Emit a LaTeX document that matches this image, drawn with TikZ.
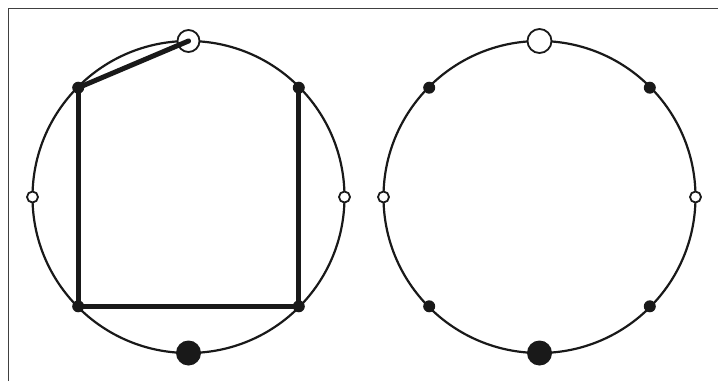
\documentclass[tikz,border=0pt]{standalone}
\begin{document}
\begin{tikzpicture}[x=1pt,y=-1pt,
  ring/.style={draw=black!90,line width=2.2pt},
  bigopen/.style={circle,draw=black!90,fill=white,line width=1.8pt,inner sep=0pt,minimum size=22pt},
  bigdot/.style={circle,fill=black!90,inner sep=0pt,minimum size=25pt},
  smalldot/.style={circle,fill=black!90,inner sep=0pt,minimum size=12pt},
  smallopen/.style={circle,draw=black!90,fill=white,line width=1.8pt,inner sep=0pt,minimum size=11pt},
  thick line/.style={draw=black!90,line width=5pt,line cap=round},
  frame/.style={draw=black!75,line width=1pt}]
\useasboundingbox (0,0) rectangle (718,381);
\fill[white] (0,0) rectangle (718,381);
\coordinate (fTL) at (8,8);
\coordinate (fBL) at (8,381);
\coordinate (fTR) at (718,8);
\draw[frame] (fBL) -- (fTL) -- (fTR);
% left diagram
\coordinate (L) at (188.5,197);
\draw[ring] (L) circle (156);
\node[bigopen] (Ltop) at (188.5,41) {};
\node[smallopen] (Lw) at (32.5,197) {};
\node[smallopen] (Le) at (344.5,197) {};
\node[bigdot] (Lbot) at (188.5,353) {};
\coordinate (Lnw) at (78.2,87.7);
\coordinate (Lne) at (298.8,87.7);
\coordinate (Lsw) at (78.2,306.3);
\coordinate (Lse) at (298.8,306.3);
\draw[thick line] (Lnw) -- (Ltop.center);
\draw[thick line] (Lnw) -- (Lsw) -- (Lse) -- (Lne);
\node[smalldot] (dLnw) at (Lnw) {};
\node[smalldot] (dLne) at (Lne) {};
\node[smalldot] (dLsw) at (Lsw) {};
\node[smalldot] (dLse) at (Lse) {};
% right diagram
\coordinate (R) at (539.5,197);
\draw[ring] (R) circle (156);
\node[bigopen,minimum size=24pt] (Rtop) at (539.5,41) {};
\node[smallopen] (Rw) at (383.5,197) {};
\node[smallopen] (Re) at (695.5,197) {};
\node[bigdot] (Rbot) at (539.5,353) {};
\node[smalldot] (Rnw) at (429.2,87.7) {};
\node[smalldot] (Rne) at (649.8,87.7) {};
\node[smalldot] (Rsw) at (429.2,306.3) {};
\node[smalldot] (Rse) at (649.8,306.3) {};
\end{tikzpicture}
\end{document}
